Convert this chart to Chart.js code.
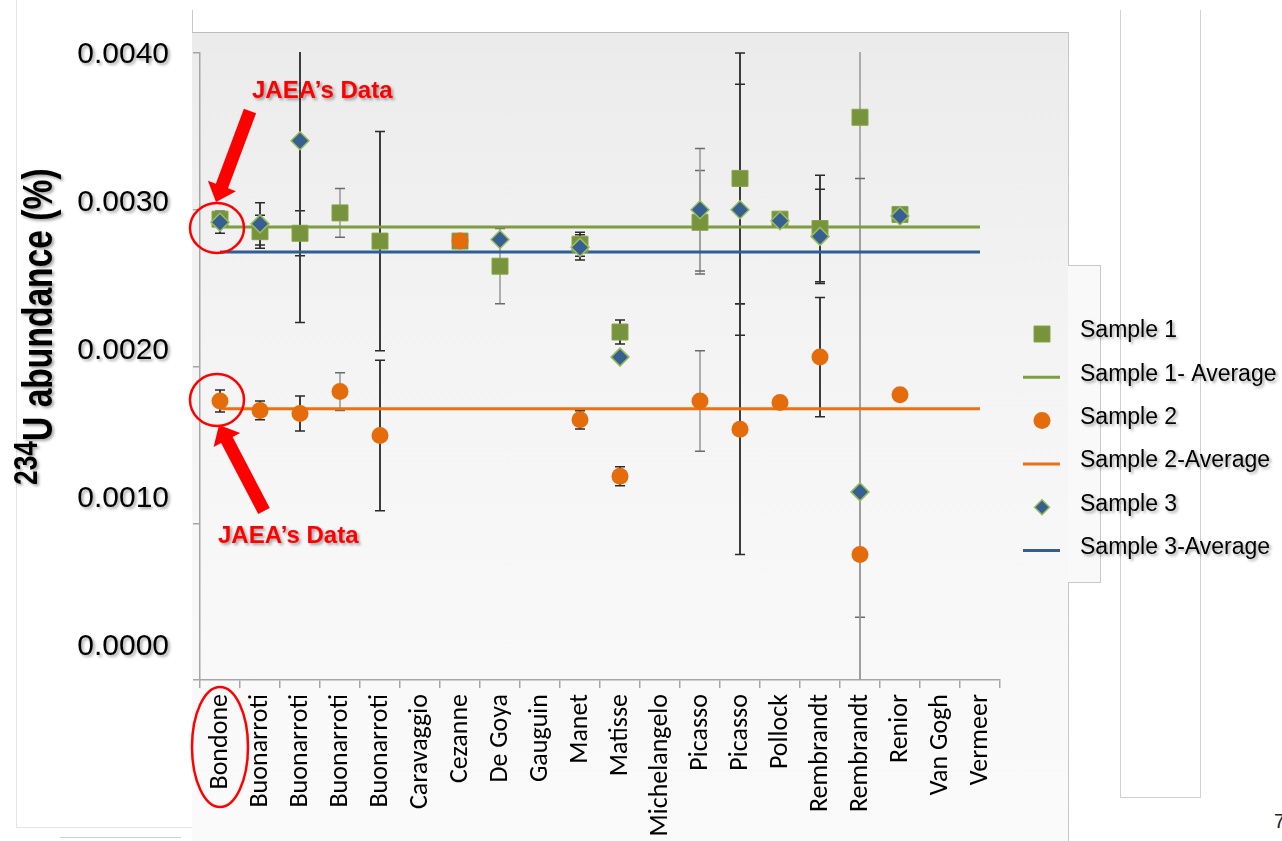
<!DOCTYPE html>
<html>
<head>
<meta charset="utf-8">
<title>234U abundance</title>
<script src="https://cdn.jsdelivr.net/npm/chart.js@4.4.1/dist/chart.umd.min.js"></script>
<style>
  html, body { margin: 0; padding: 0; background: #fff; }
  #stage { position: relative; width: 1282px; height: 841px; overflow: hidden; }
  .frame { position: absolute; box-sizing: border-box; }
  #panel {
    left: 192px; top: 32px; width: 877px; height: 809px;
    background: linear-gradient(to bottom, #ebebeb 0%, #f3f3f3 35%, #f8f8f8 70%, #fafafa 100%);
    border-top: 1px solid #bdbdbd; border-right: 1px solid #c8c8c8;
  }
  #panelStep {
    left: 1068px; top: 265px; width: 33px; height: 318px; background: #f9f9f9;
    border: 1px solid #c8c8c8; border-left: none;
  }
  #sideBox { left: 1120px; top: 10px; width: 81px; height: 788px; border: 1px solid #d0d0d0; border-top: none; }
  #tick192 { left: 192px; top: 10px; width: 1px; height: 22px; background: #c8c8c8; }
  #leftFrame { left: 16px; top: 0; width: 176px; height: 828px; border-left: 1px solid #e4e4e4; border-bottom: 1px solid #e4e4e4; }
  #bottomLine { left: 60px; top: 837px; width: 121px; height: 1px; background: #cfcfcf; }
  #pageNo { position: absolute; left: 1274px; top: 810px; font: 20px 'Liberation Sans', Arial, sans-serif; color: #222; }
  canvas { position: absolute; left: 0; top: 0; }
</style>
</head>
<body>
<div id="stage">
  <div class="frame" id="leftFrame"></div>
  <div class="frame" id="panel"></div>
  <div class="frame" id="panelStep"></div>
  <div class="frame" id="sideBox"></div>
  <div class="frame" id="tick192"></div>
  <div class="frame" id="bottomLine"></div>
  <div id="pageNo">7</div>
  <canvas id="abundanceChart" width="1282" height="841"></canvas>
</div>
<script>
// painting / sample categories along the x axis
const artists = ["Bondone", "Buonarroti", "Buonarroti", "Buonarroti", "Buonarroti", "Caravaggio",
  "Cezanne", "De Goya", "Gauguin", "Manet", "Matisse", "Michelangelo", "Picasso", "Picasso",
  "Pollock", "Rembrandt", "Rembrandt", "Renior", "Van Gogh", "Vermeer"];

// 234U abundance (%) per sample, null where nothing was measured
const sample1 = [0.00294, 0.00286, 0.00285, 0.00298, 0.00280, null, 0.00280, 0.00264, null, 0.00278,
  0.00222, null, 0.00292, 0.00320, 0.00294, 0.00288, 0.00359, 0.00297, null, null];
const sample2 = [0.00178, 0.00172, 0.00170, 0.00184, 0.00156, null, 0.00280, null, null, 0.00166,
  0.00130, null, 0.00178, 0.00160, 0.00177, 0.00206, 0.00080, 0.00182, null, null];
const sample3 = [0.00292, 0.00291, 0.00344, null, null, null, null, 0.00281, null, 0.00276,
  0.00206, null, 0.00300, 0.00300, 0.00293, 0.00283, 0.00120, 0.00296, null, null];

// +/- uncertainty for each point
const sample1Err = [null, 0.000105, 0.000144, 0.000156, 0.00070, null, null, 0.00024, null, 0.000077,
  0.000077, null, 0.00033, 0.00080, 0.00003, 0.00034, 0.0038, null, null, null];
const sample2Err = [0.00007, 0.00006, 0.000112, 0.00012, 0.00048, null, null, null, null, 0.000058,
  0.00006, null, 0.00032, 0.00080, null, 0.00038, 0.00040, null, null, null];
const sample3Err = [0.00007, 0.000135, 0.00116, null, null, null, null, null, null, 0.00008,
  null, null, 0.00039, 0.00080, null, 0.00030, 0.0020, null, null, null];

const sample1Avg = 0.00289;
const sample2Avg = 0.00173;
const sample3Avg = 0.00273;

const yTickValues = [0, 0.001, 0.002, 0.003, 0.004];

// categories whose error bars are drawn in the lighter grey
const faintBars = [3, 7, 12, 16];

const GREEN = "#77933c";
const ORANGE = "#e46c0a";
const BLUE = "#366092";
const ARIAL = "'Liberation Sans', Arial, sans-serif";

// average lines run from the first to the last category
function avgLine(value) {
  return [{ x: artists[0], y: value }, { x: artists[artists.length - 1], y: value }];
}

function withShadow(ctx, fn) {
  ctx.save();
  ctx.shadowColor = "rgba(0, 0, 0, 0.35)";
  ctx.shadowBlur = 3;
  ctx.shadowOffsetX = 2;
  ctx.shadowOffsetY = 2;
  fn();
  ctx.restore();
}

const errorBars = {
  id: "errorBars",
  beforeDatasetsDraw(chart) {
    const { ctx, chartArea, scales: { x, y } } = chart;
    ctx.save();
    ctx.beginPath();
    ctx.rect(chartArea.left, chartArea.top - 1, chartArea.width, chartArea.height + 1);
    ctx.clip();
    [[sample1, sample1Err], [sample2, sample2Err], [sample3, sample3Err]].forEach(([vals, errs]) => {
      vals.forEach((v, i) => {
        if (v == null || errs[i] == null) {
          return;
        }
        const px = x.getPixelForValue(i);
        const top = y.getPixelForValue(v + errs[i]);
        const bottom = y.getPixelForValue(v - errs[i]);
        const faint = faintBars.includes(i);
        ctx.strokeStyle = faint ? "#9c9c9c" : "#3c3c3c";
        ctx.lineWidth = faint ? 1.6 : 2;
        ctx.beginPath();
        ctx.moveTo(px, top);
        ctx.lineTo(px, bottom);
        ctx.stroke();
        ctx.strokeStyle = faint ? "#6a6a6a" : "#2a2a2a";
        ctx.lineWidth = 1.5;
        ctx.beginPath();
        ctx.moveTo(px - 5, top);
        ctx.lineTo(px + 5, top);
        ctx.moveTo(px - 5, bottom);
        ctx.lineTo(px + 5, bottom);
        ctx.stroke();
      });
    });
    ctx.restore();
  }
};

// y tick labels carry a soft drop shadow
const shadowedTicks = {
  id: "shadowedTicks",
  beforeDraw(chart) {
    const scale = chart.scales.yText;
    if (!scale || scale._shadowPatched) {
      return;
    }
    const original = scale.drawLabels.bind(scale);
    scale.drawLabels = function (area) {
      withShadow(this.ctx, () => original(area));
    };
    scale._shadowPatched = true;
  }
};

function drawArrow(ctx, tailX, tailY, tipX, tipY) {
  const dx = tipX - tailX;
  const dy = tipY - tailY;
  const len = Math.hypot(dx, dy);
  const ux = dx / len, uy = dy / len;
  const px = -uy, py = ux;
  const headLen = 17, headHalf = 15, shaftHalf = 6.5;
  const bx = tipX - ux * headLen, by = tipY - uy * headLen;
  ctx.beginPath();
  ctx.moveTo(tailX + px * shaftHalf, tailY + py * shaftHalf);
  ctx.lineTo(bx + px * shaftHalf, by + py * shaftHalf);
  ctx.lineTo(bx + px * headHalf, by + py * headHalf);
  ctx.lineTo(tipX, tipY);
  ctx.lineTo(bx - px * headHalf, by - py * headHalf);
  ctx.lineTo(bx - px * shaftHalf, by - py * shaftHalf);
  ctx.lineTo(tailX - px * shaftHalf, tailY - py * shaftHalf);
  ctx.closePath();
  ctx.fill();
}

const annotations = {
  id: "annotations",
  afterDraw(chart) {
    const { ctx, chartArea, scales: { x, y } } = chart;
    const bx = x.getPixelForValue(0);

    // axis title with superscript mass number
    withShadow(ctx, () => {
      ctx.translate(52, 485);
      ctx.rotate(-Math.PI / 2);
      ctx.scale(0.8, 1);
      ctx.fillStyle = "#000";
      ctx.textBaseline = "alphabetic";
      ctx.font = "bold 33px " + ARIAL;
      ctx.fillText("234", 0, -15);
      const w = ctx.measureText("234").width;
      ctx.font = "bold 42px " + ARIAL;
      ctx.fillText("U abundance (%)", w, 0);
    });

    // red call-outs around the Bondone measurements
    ctx.save();
    ctx.strokeStyle = "#ff0000";
    ctx.lineWidth = 2.5;
    ctx.beginPath();
    ctx.ellipse(bx - 3, y.getPixelForValue(sample1Avg) + 1, 27, 25, 0, 0, Math.PI * 2);
    ctx.stroke();
    ctx.beginPath();
    ctx.ellipse(bx - 3, y.getPixelForValue(sample2[0]) - 1, 27, 26, 0, 0, Math.PI * 2);
    ctx.stroke();
    ctx.beginPath();
    ctx.ellipse(bx, chartArea.bottom + 67, 28, 60, 0, 0, Math.PI * 2);
    ctx.stroke();
    ctx.fillStyle = "#ff0000";
    drawArrow(ctx, bx + 30, 111, bx - 4, 202);
    drawArrow(ctx, bx + 44, 511, bx - 1, 425);
    ctx.restore();

    withShadow(ctx, () => {
      ctx.fillStyle = "#ff0000";
      ctx.font = "bold 24px " + ARIAL;
      ctx.textBaseline = "alphabetic";
      ctx.fillText("JAEA\u2019s Data", 252, 98);
      ctx.fillText("JAEA\u2019s Data", 218, 543);
    });

    // legend
    const rowTop = 331, rowStep = 43.3, markX = 1042, textX = 1080;
    chart.data.datasets.forEach((ds, i) => {
      const cy = rowTop + i * rowStep;
      ctx.save();
      if (ds.showLine === false) {
        ctx.fillStyle = ds.backgroundColor;
        ctx.strokeStyle = ds.borderColor;
        ctx.lineWidth = ds.borderWidth;
        Chart.helpers.drawPoint(ctx, {
          pointStyle: ds.pointStyle,
          rotation: 0,
          radius: ds.pointStyle === "rectRot" ? 7.5 : ds.pointRadius,
          borderWidth: ds.borderWidth
        }, markX, cy + 3);
      } else {
        ctx.strokeStyle = ds.borderColor;
        ctx.lineWidth = 3;
        ctx.beginPath();
        ctx.moveTo(markX - 19, cy + 3);
        ctx.lineTo(markX + 18, cy + 3);
        ctx.stroke();
      }
      ctx.restore();
      withShadow(ctx, () => {
        ctx.fillStyle = "#000";
        ctx.font = "23px " + ARIAL;
        ctx.textBaseline = "middle";
        ctx.fillText(ds.label, textX, cy);
      });
    });
  }
};

new Chart(document.getElementById("abundanceChart").getContext("2d"), {
  type: "line",
  data: {
    labels: artists,
    datasets: [
      {
        label: "Sample 1",
        data: sample1,
        showLine: false,
        pointStyle: "rect",
        pointRadius: 11.3,
        backgroundColor: GREEN,
        borderColor: "#86a347",
        borderWidth: 1,
        yAxisID: "y",
        order: 2
      },
      {
        label: "Sample 1- Average",
        data: avgLine(sample1Avg),
        borderColor: "#7e9c40",
        borderWidth: 3,
        pointRadius: 0,
        yAxisID: "y",
        order: 5
      },
      {
        label: "Sample 2",
        data: sample2,
        showLine: false,
        pointStyle: "circle",
        pointRadius: 8.5,
        backgroundColor: ORANGE,
        borderColor: ORANGE,
        borderWidth: 0,
        yAxisID: "y",
        order: 1
      },
      {
        label: "Sample 2-Average",
        data: avgLine(sample2Avg),
        borderColor: "#ea7115",
        borderWidth: 3,
        pointRadius: 0,
        yAxisID: "y",
        order: 4
      },
      {
        label: "Sample 3",
        data: sample3,
        showLine: false,
        pointStyle: "rectRot",
        pointRadius: 9,
        backgroundColor: BLUE,
        borderColor: "#9bbb59",
        borderWidth: 1.5,
        yAxisID: "y",
        order: 0
      },
      {
        label: "Sample 3-Average",
        data: avgLine(sample3Avg),
        borderColor: "#2f5d95",
        borderWidth: 3,
        pointRadius: 0,
        yAxisID: "y",
        order: 3
      }
    ]
  },
  options: {
    responsive: false,
    animation: false,
    devicePixelRatio: 1,
    events: [],
    layout: { padding: { left: 70, right: 282, top: 53, bottom: 0 } },
    plugins: {
      legend: { display: false },
      tooltip: { enabled: false }
    },
    scales: {
      x: {
        type: "category",
        offset: true,
        grid: { offset: true, drawOnChartArea: false, drawTicks: true, tickLength: 8, color: "#a6a6a6", lineWidth: 1.5 },
        border: { color: "#a6a6a6", width: 1.5 },
        ticks: {
          autoSkip: false,
          minRotation: 90,
          maxRotation: 90,
          padding: 6,
          color: "#000",
          font: { family: "Carlito, Lato, 'Open Sans', sans-serif", size: 26 }
        },
        afterFit: (scale) => { scale.height = 161; }
      },
      y: {
        position: "left",
        min: 0,
        max: 0.004,
        ticks: { display: false, stepSize: 0.001 },
        grid: { drawOnChartArea: false, tickLength: 7, color: "#a6a6a6", lineWidth: 1.5 },
        border: { color: "#a6a6a6", width: 1.5 },
        afterFit: (scale) => { scale.width = 7; }
      },
      // tick text sits on its own scale so the labels keep their slide spacing
      yText: {
        position: "left",
        weight: 1,
        min: -0.000223,
        max: 0.0040135,
        grid: { display: false, drawTicks: false },
        border: { display: false },
        afterBuildTicks: (scale) => { scale.ticks = yTickValues.map((v) => ({ value: v })); },
        ticks: {
          padding: 24,
          color: "#000",
          font: { family: ARIAL, size: 30 },
          callback: (v) => Number(v).toFixed(4)
        },
        afterFit: (scale) => { scale.width = 123; }
      }
    }
  },
  plugins: [errorBars, shadowedTicks, annotations]
});
</script>
</body>
</html>
